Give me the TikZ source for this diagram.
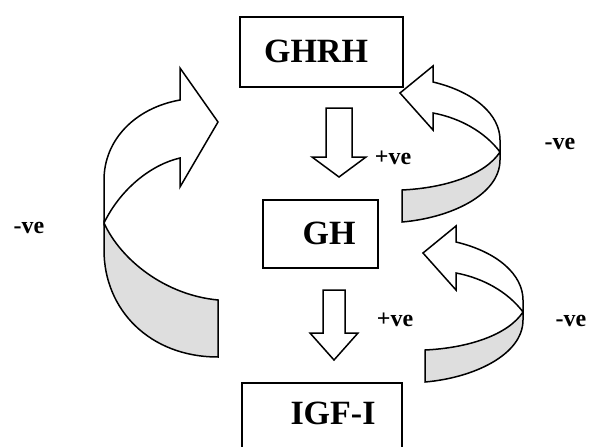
\documentclass[tikz,border=0pt]{standalone}
\usepackage{fontspec}
\setmainfont{Liberation Serif}
\begin{document}
\begin{tikzpicture}[x=1pt,y=-1pt,line join=miter,
  box/.style={draw,line width=1.3pt,inner sep=0pt},
  lbl/.style={font=\bfseries\fontsize{34}{34}\selectfont,inner sep=0pt},
  sgn/.style={font=\bfseries\fontsize{24}{24}\selectfont,inner sep=0pt},
  blk/.style={draw,line width=1.5pt,fill=white},
  shadeface/.style={draw,line width=1.5pt,fill=black!13}]
\useasboundingbox (0,0) rectangle (590,447);
\clip (0,0) rectangle (590,447);
% boxes
\node[box,minimum width=163pt,minimum height=70pt] (ghrh) at (321.5,52) {};
\node[lbl] (ghrhT) at (316,51) {GHRH};
\node[box,minimum width=115pt,minimum height=68pt] (gh) at (320.5,234) {};
\node[lbl] (ghT) at (329,233) {GH};
\node[box,minimum width=160pt,minimum height=100pt] (igf) at (322,433) {};
\node[lbl] (igfT) at (333,413) {IGF-I};
% down block arrows
\draw[blk] (326,108) -- (352,108) -- (352,157) -- (366,157) -- (339,177) -- (312,157) -- (326,157) -- cycle;
\draw[blk] (323,290) -- (345,290) -- (345,333) -- (358,333) -- (334,360) -- (310,333) -- (323,333) -- cycle;
% left curved arrow
\draw[shadeface] (104,223) .. controls (121,260) and (165,295) .. (218,300) -- (218,357) .. controls (150,357) and (104,310) .. (104,250) -- cycle;
\draw[blk] (180,100) .. controls (135,108) and (104,140) .. (104,180) -- (104,223) .. controls (120,190) and (150,165) .. (180,158) -- (180,187) -- (218,122) -- (180,68) -- cycle;
% right curved arrows
\foreach \dx/\dy in {0/0,23/160}{
\begin{scope}[shift={(\dx,\dy)}]
\draw[shadeface] (500,152) .. controls (485,175) and (445,188) .. (402,190) -- (402,222) .. controls (450,218) and (500,195) .. (500,160) -- cycle;
\draw[blk] (433,82) .. controls (475,92) and (500,115) .. (500,140) -- (500,152) .. controls (485,132) and (460,118) .. (433,113) -- (433,130) -- (400,93) -- (433,66) -- cycle;
\end{scope}}
% labels
\node[sgn] (p1) at (393,158) {+ve};
\node[sgn] (p2) at (395,320) {+ve};
\node[sgn] (n1) at (560,144) {-ve};
\node[sgn] (n2) at (571,321) {-ve};
\node[sgn] (n3) at (29,228) {-ve};
\end{tikzpicture}
\end{document}
